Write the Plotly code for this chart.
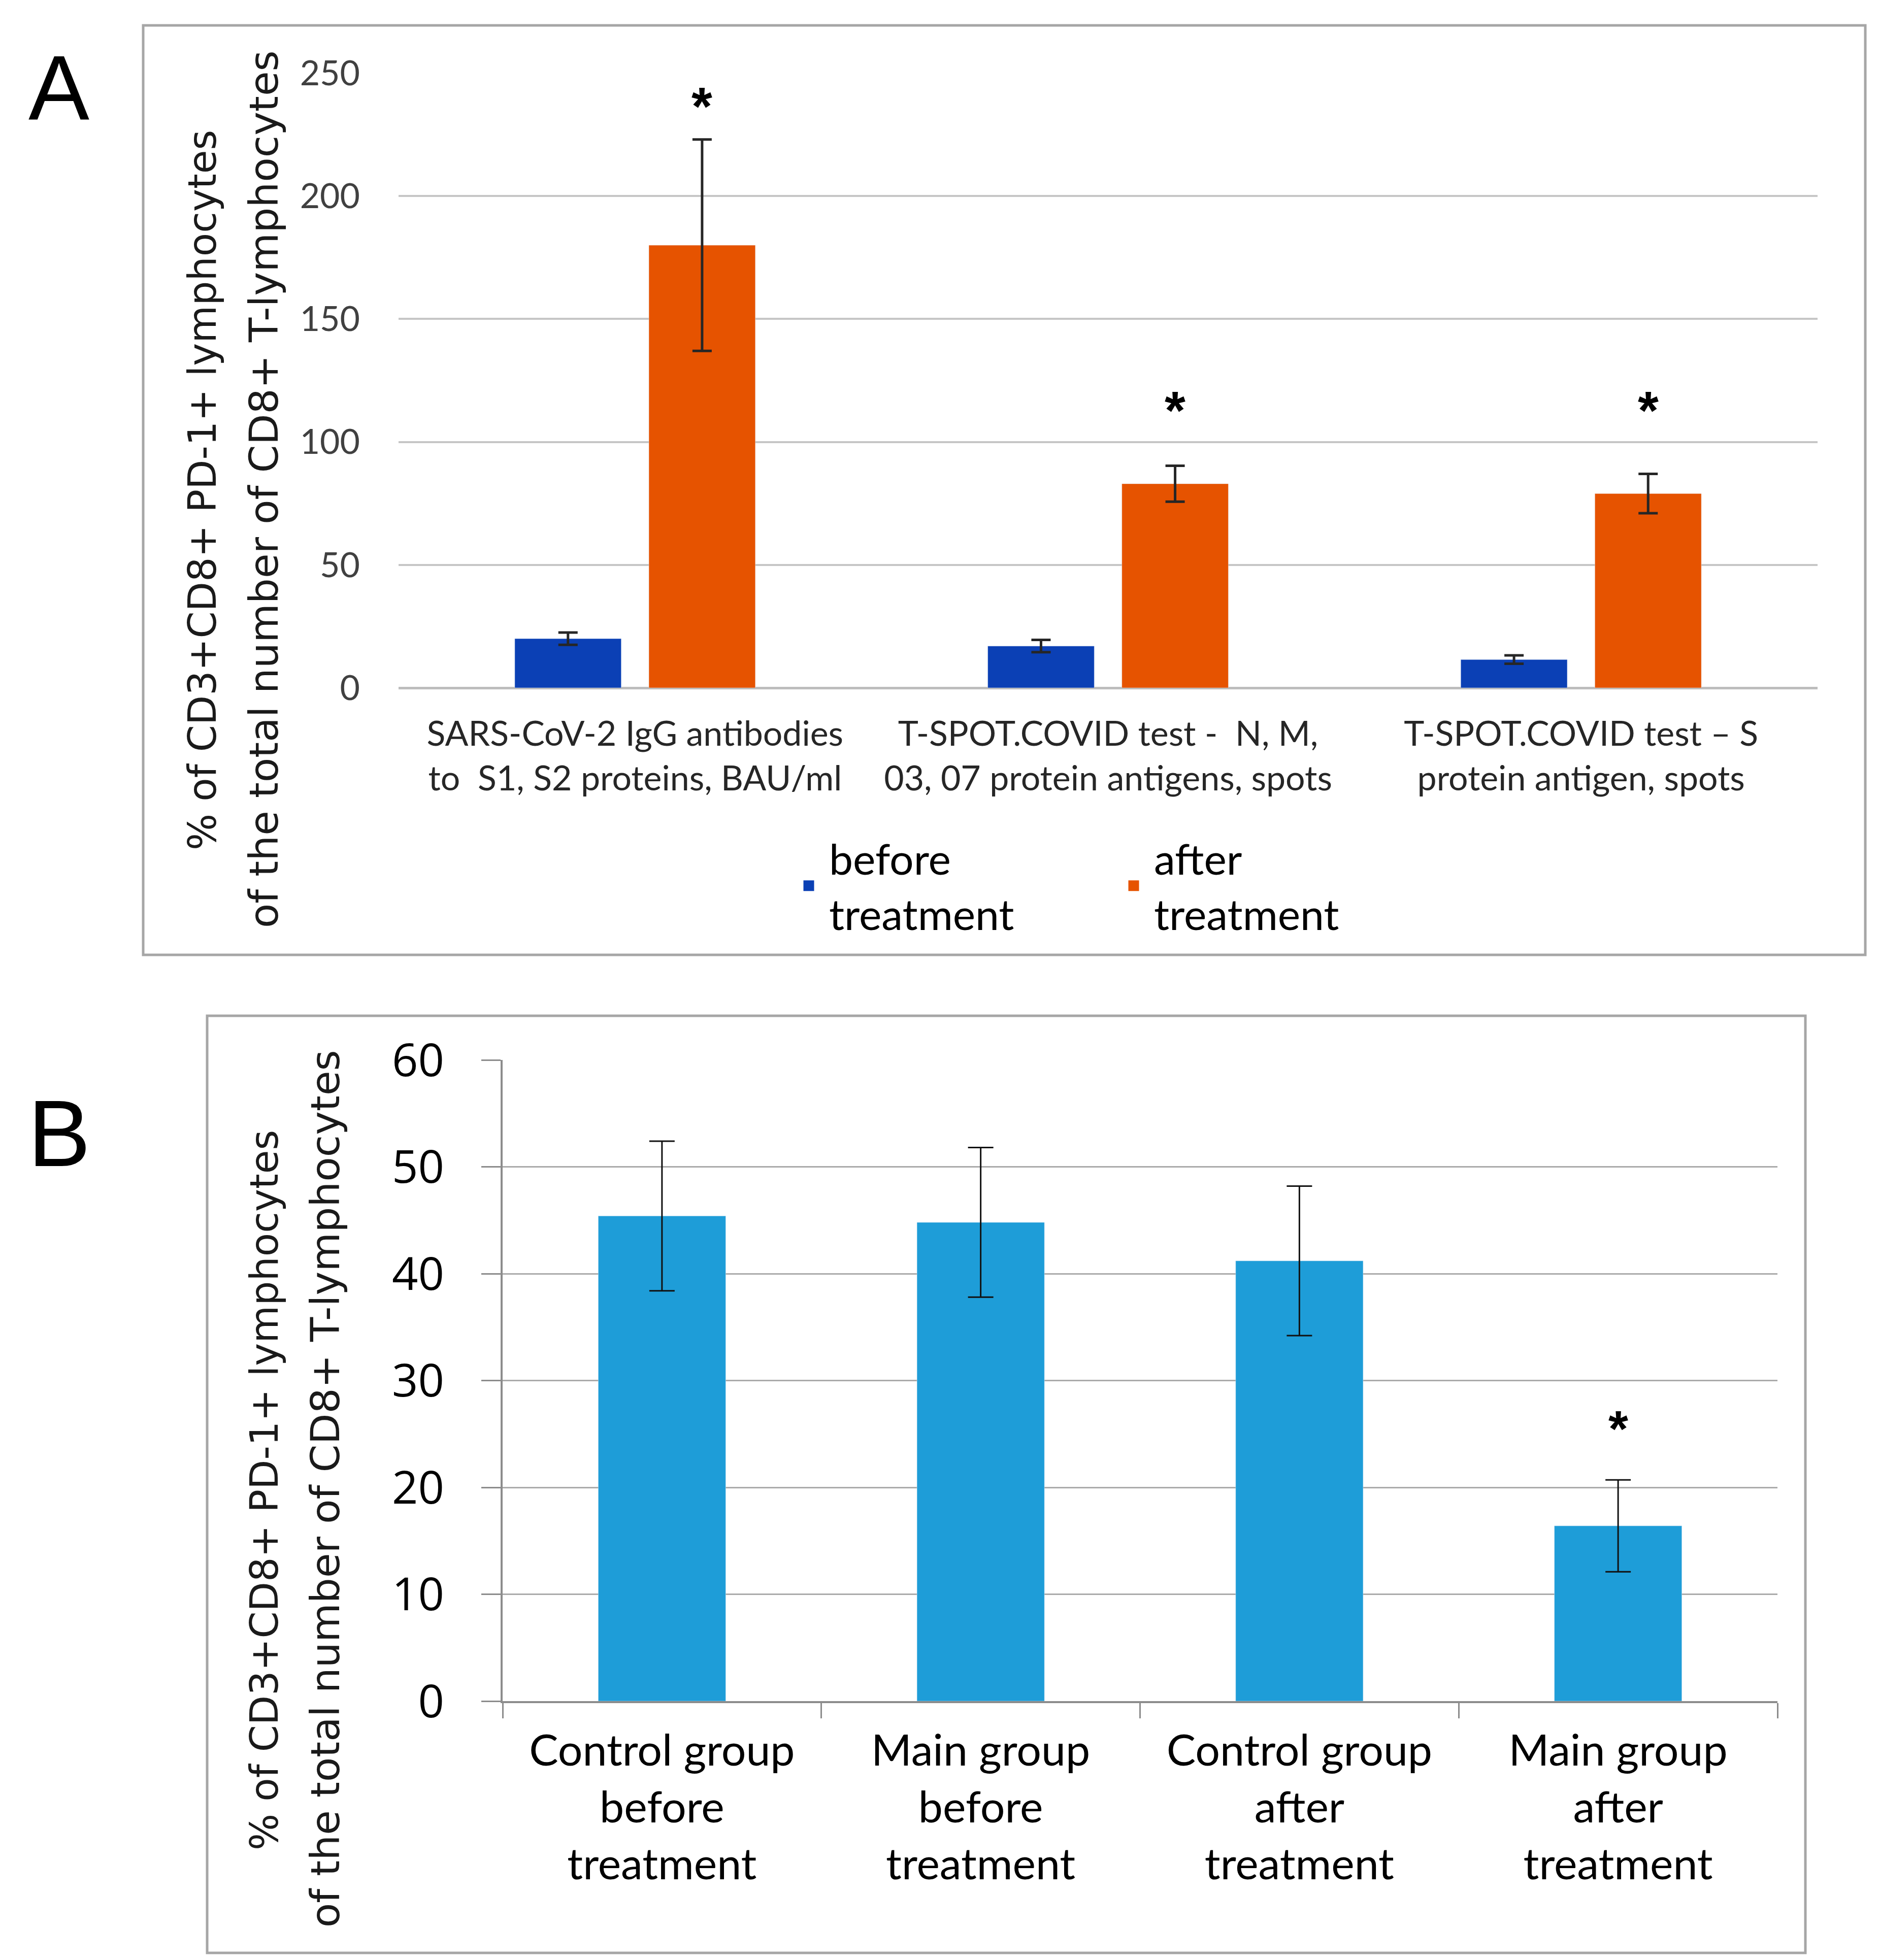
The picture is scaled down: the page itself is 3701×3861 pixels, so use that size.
import plotly.graph_objects as go

# ---------------- Panel A data ----------------
catA = ["SARS-CoV-2 IgG antibodies<br>to  S1, S2 proteins, BAU/ml",
        "T-SPOT.COVID test -  N, M,<br>03, 07 protein antigens, spots",
        "T-SPOT.COVID test – S<br>protein antigen, spots"]
beforeA = [20, 17, 11.5]
beforeA_err = [2.5, 2.5, 1.7]
afterA = [180, 83, 79]
afterA_err = [43, 7.3, 8]
starA = [237, 113.5, 113.5]
ticksA = [0, 50, 100, 150, 200, 250]

# ---------------- Panel B data ----------------
catB = ["Control group<br>before<br>treatment",
        "Main group<br>before<br>treatment",
        "Control group<br>after<br>treatment",
        "Main group<br>after<br>treatment"]
valB = [45.4, 44.8, 41.2, 16.4]
errB = [7.0, 7.0, 7.0, 4.3]
starB_cat = [catB[3]]
starB_y = [25.5]
ticksB = [0, 10, 20, 30, 40, 50, 60]

W, H = 3701, 3861
BLUE = "#0B40B5"
ORANGE = "#E65300"
LIGHT = "#1E9DD8"
BARGAP_A = 0.433
GROUPGAP_A = 0.206


def px_x(p):
    return p / W


def px_y(p):
    return 1 - p / H


fig = go.Figure()

fig.add_trace(go.Bar(
    x=catA, y=beforeA, name="before<br>treatment", marker_color=BLUE,
    error_y=dict(type="data", array=beforeA_err, color="#262626", thickness=5, width=19),
    xaxis="x", yaxis="y", showlegend=False))
fig.add_trace(go.Bar(
    x=catA, y=afterA, name="after<br>treatment", marker_color=ORANGE,
    error_y=dict(type="data", array=afterA_err, color="#262626", thickness=5, width=19),
    xaxis="x", yaxis="y", showlegend=False))

# legend entries
for nm, col in [("before<br>treatment", BLUE), ("after<br>treatment", ORANGE)]:
    fig.add_trace(go.Scatter(
        x=[None], y=[None], mode="markers", name=nm,
        marker=dict(symbol="square", size=16, color=col, line=dict(width=5, color=col)),
        xaxis="x", yaxis="y", showlegend=True))

fig.add_trace(go.Bar(
    x=catB, y=valB, marker_color=LIGHT, width=0.4,
    error_y=dict(type="data", array=errB, color="#111111", thickness=3, width=25),
    xaxis="x2", yaxis="y2", showlegend=False))

annotations = []
offA = (1 - BARGAP_A) / 4
for i, ys in enumerate(starA):
    annotations.append(dict(x=i + offA, y=ys, xref="x", yref="y", text="*",
                            showarrow=False, yshift=-3, xanchor="center", yanchor="middle",
                            font=dict(family="Liberation Sans", size=105, color="#000000", weight="bold")))
for c, ys in zip(starB_cat, starB_y):
    annotations.append(dict(x=c, y=ys, xref="x2", yref="y2", text="*",
                            showarrow=False, yshift=0, xanchor="center", yanchor="middle",
                            font=dict(family="Liberation Sans", size=100, color="#000000", weight="bold")))

# panel letters
annotations.append(dict(x=px_x(108), y=px_y(165), xref="paper", yref="paper", text="A",
                        xanchor="center", yanchor="middle",
                        showarrow=False, font=dict(family="Liberation Sans", size=180, color="#000")))
annotations.append(dict(x=px_x(108), y=px_y(2225), xref="paper", yref="paper", text="B",
                        xanchor="center", yanchor="middle",
                        showarrow=False, font=dict(family="Liberation Sans", size=185, color="#000")))

# y axis titles (two lines each)
l1font = dict(family="DejaVu Sans", size=76, color="#1a1a1a")
l2font = dict(family="DejaVu Sans", size=79, color="#1a1a1a")
for xpx, ypx, txt, fnt in [(390, 958, "% of CD3+CD8+ PD-1+ lymphocytes", l1font),
                           (512, 955, "of the total number of CD8+ T-lymphocytes", l2font),
                           (512, 2927, "% of CD3+CD8+ PD-1+ lymphocytes", l1font),
                           (633, 2925, "of the total number of CD8+ T-lymphocytes", l2font)]:
    annotations.append(dict(x=px_x(xpx), y=px_y(ypx), xref="paper", yref="paper", text=txt,
                            xanchor="center", yanchor="middle",
                            textangle=-90, showarrow=False, font=fnt))

shapes = [
    dict(type="rect", xref="paper", yref="paper", x0=px_x(274), x1=px_x(3666),
         y0=px_y(1873), y1=px_y(42), line=dict(color="#A6A6A6", width=5)),
    dict(type="rect", xref="paper", yref="paper", x0=px_x(400), x1=px_x(3548),
         y0=px_y(3839), y1=px_y(1993), line=dict(color="#A6A6A6", width=5)),
]

fig.update_layout(
    width=W, height=H,
    margin=dict(l=0, r=0, t=0, b=0, autoexpand=False),
    paper_bgcolor="white", plot_bgcolor="white",
    barmode="group", bargap=BARGAP_A, bargroupgap=GROUPGAP_A,
    annotations=annotations, shapes=shapes,
    legend=dict(orientation="h", x=px_x(1545), y=px_y(1737), xanchor="left", yanchor="middle",
                font=dict(family="Lato", size=84, color="#000"), valign="middle",
                entrywidth=555, entrywidthmode="pixels", bgcolor="rgba(0,0,0,0)",
                itemsizing="trace", itemwidth=70),
    xaxis=dict(domain=[px_x(777), px_x(3572)], anchor="y", showgrid=False, ticks="",
               showline=False, tickfont=dict(family="Lato", size=68, color="#262626"),
               ticklabelstandoff=45, automargin=False),
    yaxis=dict(domain=[px_y(1347), px_y(136)], anchor="x", range=[0, 250], tickvals=ticksA,
               showgrid=True, gridcolor="#C6C6C6", gridwidth=4, zeroline=True,
               zerolinecolor="#BDBDBD", zerolinewidth=5, showline=False, ticks="",
               tickfont=dict(family="Lato", size=68, color="#404040"), ticklabelstandoff=75,
               automargin=False),
    xaxis2=dict(domain=[px_x(982), px_x(3493)], anchor="y2", showgrid=False,
                ticks="outside", ticklen=30, tickwidth=3, tickcolor="#8C8C8C", tickson="boundaries",
                showline=True, linecolor="#8C8C8C", linewidth=4,
                tickfont=dict(family="Lato", size=86, color="#000"), ticklabelstandoff=20,
                automargin=False),
    yaxis2=dict(domain=[px_y(3343), px_y(2080)], anchor="x2", range=[0, 60], tickvals=ticksB,
                showgrid=True, gridcolor="#ABABAB", gridwidth=3, zeroline=False,
                showline=True, linecolor="#8C8C8C", linewidth=4,
                ticks="outside", ticklen=38, tickwidth=3, tickcolor="#8C8C8C",
                tickfont=dict(family="Open Sans", size=90, color="#000"), ticklabelstandoff=55,
                automargin=False),
)

fig.write_html("out.html")
